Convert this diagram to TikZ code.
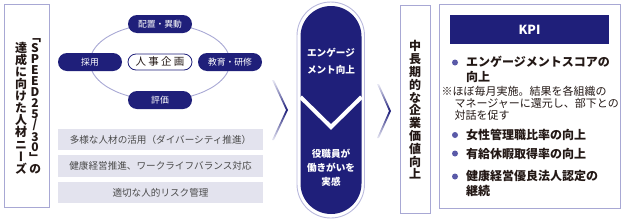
\documentclass[tikz,border=0pt]{standalone}
\usepackage{fontspec}
\setmainfont{Noto Sans CJK JP}
\newfontfamily\vjp[RawFeature=+vert]{Noto Sans CJK JP}
\definecolor{navy}{HTML}{1F1F7A}
\definecolor{lav}{HTML}{A8A8D4}
\definecolor{boxgray}{HTML}{E3E3EE}
\definecolor{txt}{HTML}{231815}
\definecolor{gtxt}{HTML}{4A4A4A}
\definecolor{dotc}{HTML}{5A5AA8}
\begin{document}
\begin{tikzpicture}[x=1pt,y=-1pt,
  frame/.style={draw=lav, line width=0.9pt},
  pill/.style={rounded corners=9pt, fill=navy, text=white, minimum width=64pt, minimum height=18pt, inner sep=0pt, font=\fontsize{8.8}{10}\selectfont},
  graybox/.style={fill=boxgray, minimum width=205pt, inner sep=0pt, text=gtxt, font=\fontsize{9.6}{11}\selectfont},
  capt/.style={text=white, inner sep=0pt, font=\bfseries\fontsize{9.6}{11}\selectfont},
  btext/.style={anchor=west, align=left, inner sep=0pt, text=txt, font=\bfseries\fontsize{12}{15}\selectfont},
  bdot/.style={fill=dotc},
  chev/.style={top color=lav!25, bottom color=lav!25, middle color=navy}
]
\useasboundingbox (0,0) rectangle (624,220);

% left box
\draw[frame] (4,4) rectangle (49,207);
\node[inner sep=0pt, align=center, text=txt, font=\vjp\bfseries\fontsize{12}{10.9}\selectfont] (colR) at (35,106.5)
  {「\\S\\P\\E\\E\\D\\2\\5\\/\\3\\0\\」\\の};
\node[inner sep=0pt, align=center, text=txt, font=\vjp\bfseries\fontsize{12}{12.1}\selectfont] (colL) at (21,108)
  {達\\成\\に\\向\\け\\た\\人\\材\\ニ\\ー\\ズ};

% ellipse cycle
\draw[lav, line width=0.9pt] (160,62) ellipse [x radius=70, y radius=38];
\node[pill] (p1) at (160,24) {配置・異動};
\node[pill] (p2) at (90,62) {採用};
\node[pill] (p3) at (230,62) {教育・研修};
\node[pill] (p4) at (160,100) {評価};
\node[rounded corners=8pt, fill=white, draw=navy, line width=0.8pt, minimum width=64pt, minimum height=16pt, inner sep=0pt, text=txt, font=\fontsize{10.5}{12}\selectfont] (hr) at (160,62) {人\hspace{2.2pt}事\hspace{2.2pt}企\hspace{2.2pt}画};

% gray boxes
\node[graybox, minimum height=21pt] (g1) at (160.5,139.5) {多様な人材の活用（ダイバーシティ推進）};
\node[graybox, minimum height=22pt] (g2) at (160.5,165.5) {健康経営推進、ワークライフバランス対応};
\node[graybox, minimum height=21pt] (g3) at (160.5,192.5) {適切な人的リスク管理};

% chevron 1
\shade[chev] (272,80) -- (286,110) -- (272,140) -- (274,140) -- (288,110) -- (274,80) -- cycle;

% capsule
\draw[lav!80, line width=0.9pt, rounded corners=33.7pt] (297,2) rectangle (364.5,218);
\fill[navy, rounded corners=30.5pt] (300.5,6) rectangle (361.5,214);
\draw[white, line width=4pt] (300.5,97) -- (331,127) -- (361.5,97);
\node[capt] (c1) at (331,53) {エンゲージ};
\node[capt] (c2) at (331,70) {メント向上};
\node[capt] (c3) at (331,153.5) {役職員が};
\node[capt] (c4) at (331,168) {働きがいを};
\node[capt] (c5) at (331,182) {実感};

% chevron 2
\shade[chev] (377,84) -- (389,111) -- (377,138) -- (379,138) -- (391,111) -- (379,84) -- cycle;

% mid-long term box
\draw[frame] (400,5) rectangle (430,213);
\node[inner sep=0pt, align=center, text=txt, font=\bfseries\fontsize{12}{12.8}\selectfont] (mv) at (415,110)
  {中\\長\\期\\的\\な\\企\\業\\価\\値\\向\\上};

% KPI box
\draw[frame] (439,4) rectangle (620,208);
\node[fill=navy, minimum width=159pt, minimum height=29pt, inner sep=0pt, text=white, font=\bfseries\fontsize{12.5}{14}\selectfont] (kpi) at (529.5,29.5) {KPI};
\fill[bdot] (455,62.5) circle (3);
\node[btext] (k1) at (466,69.5) {エンゲージメントスコアの\\向上};
\node[anchor=west, align=left, inner sep=0pt, text=txt, font=\fontsize{11}{12}\selectfont] (note) at (441.5,103)
  {※ほぼ毎月実施。結果を各組織の\\\hspace*{13pt}マネージャーに還元し、部下との\\\hspace*{13pt}対話を促す};
\fill[bdot] (455,135) circle (3);
\node[btext] (k2) at (466,135) {女性管理職比率の向上};
\fill[bdot] (455,153.5) circle (3);
\node[btext] (k3) at (466,153.5) {有給休暇取得率の向上};
\fill[bdot] (455,176.5) circle (3);
\node[btext] (k4) at (466,183.5) {健康経営優良法人認定の\\継続};
\end{tikzpicture}
\end{document}
